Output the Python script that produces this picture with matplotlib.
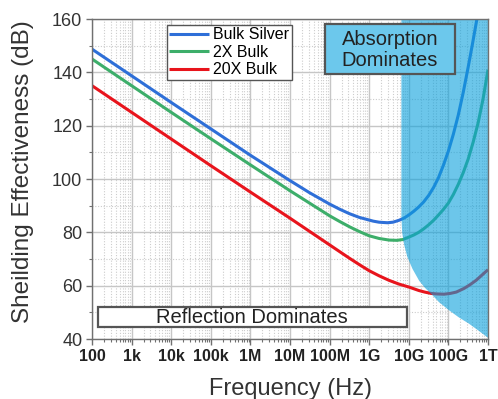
import numpy as np
import matplotlib
matplotlib.use('Agg')
import matplotlib.pyplot as plt
from matplotlib.patches import Rectangle
from matplotlib.ticker import LogLocator, MultipleLocator, NullFormatter, FixedLocator, FixedFormatter

plt.rcParams['font.family'] = ['Liberation Sans', 'DejaVu Sans']

# ---------------- data ----------------
series_names = ['Bulk Silver', '2X Bulk', '20X Bulk']

# log10 of frequency in Hz, and shielding effectiveness in dB
bulk_logf = [2, 3, 4, 5, 6, 7, 7.5, 8, 8.25, 8.5, 8.75, 9, 9.1, 9.25, 9.35, 9.46,
             9.6, 9.75, 9.875, 10, 10.125, 10.25, 10.375, 10.5, 10.625, 10.75,
             10.875, 11, 11.125, 11.25, 11.375, 11.5, 11.6, 11.72, 11.85]
bulk_se = [148.7, 138.7, 128.7, 118.8, 108.9, 99.4, 94.8, 90.6, 88.7, 87.0, 85.6,
           84.6, 84.2, 83.8, 83.7, 83.6, 83.8, 84.5, 85.3, 86.5, 87.9, 89.5, 91.4,
           93.8, 96.8, 100.5, 105.2, 110.5, 116.8, 124, 132.5, 142, 150, 160, 172]

x2_logf = [2, 3, 4, 5, 6, 7, 7.5, 8, 8.25, 8.5, 8.75, 9, 9.25, 9.5, 9.7, 9.85, 10,
           10.125, 10.25, 10.375, 10.5, 10.625, 10.75, 10.875, 11, 11.125, 11.25,
           11.375, 11.5, 11.625, 11.75, 11.875, 12]
x2_se = [145, 135, 125, 115.1, 105.3, 95.6, 90.9, 86.2, 84.1, 82.1, 80.3, 78.7,
         77.7, 77.1, 77.0, 77.3, 78.2, 79.0, 80.0, 81.3, 82.8, 84.5, 86.5, 88.6,
         91, 94.2, 98, 102.4, 107.5, 113.8, 121, 130, 141]

x20_logf = [2, 3, 4, 5, 6, 7, 7.5, 7.75, 8, 8.25, 8.5, 8.75, 9, 9.25, 9.5, 9.75,
            10, 10.25, 10.4, 10.56, 10.7, 10.89, 11.05, 11.2, 11.4, 11.55, 11.7,
            11.85, 12]
x20_se = [135, 125, 115, 105, 95.1, 85.3, 80.3, 77.8, 75.3, 72.8, 70.3, 67.9,
          65.6, 63.7, 62.0, 60.6, 59.5, 58.2, 57.6, 57.1, 56.9, 56.8, 57.1, 57.6,
          59.0, 60.4, 62.0, 64.0, 66.0]

# boundary of the "absorption dominates" region
shade_logf = [9.8, 9.8, 9.82, 9.87, 9.95, 10.08, 10.25, 10.4, 10.56, 10.75,
              11.0, 11.25, 11.5, 11.75, 12.0]
shade_se = [160, 86, 80, 75.5, 71, 66.5, 62, 59.3, 57, 54, 51, 48.3, 46, 43.3, 40.5]

xtick_logf = [2, 3, 4, 5, 6, 7, 8, 9, 10, 11, 12]
xtick_labels = ['100', '1k', '10k', '100k', '1M', '10M', '100M', '1G', '10G', '100G', '1T']

line_colors = ['#2E6FD8', '#3DAE6A', '#E8141C']

# ---------------- figure ----------------
W, H = 498, 399
fig = plt.figure(figsize=(W / 100, H / 100), dpi=100)
ax_l, ax_r, ax_t, ax_b = 92, 488, 19, 339
ax = fig.add_axes([ax_l / W, 1 - ax_b / H, (ax_r - ax_l) / W, (ax_b - ax_t) / H])

def fx(px):
    return px / W

def fy(py):
    return 1 - py / H

ax.set_xscale('log')
ax.set_xlim(1e2, 1e12)
ax.set_ylim(40, 160)

for lf, se, c, name in zip([bulk_logf, x2_logf, x20_logf],
                           [bulk_se, x2_se, x20_se], line_colors, series_names):
    ax.plot(10 ** np.array(lf, dtype=float), se, color=c, lw=2.2, label=name,
            zorder=2.5, solid_capstyle='butt', solid_joinstyle='round')

ax.fill_between(10 ** np.array(shade_logf, dtype=float), shade_se, 160,
                color='#0AA0DC', alpha=0.6, lw=0, zorder=3)

# ticks & grid
ax.xaxis.set_major_locator(FixedLocator(10 ** np.array(xtick_logf, dtype=float)))
ax.xaxis.set_major_formatter(FixedFormatter(xtick_labels))
ax.xaxis.set_minor_locator(LogLocator(base=10, subs=np.arange(2, 10), numticks=30))
ax.xaxis.set_minor_formatter(NullFormatter())
ax.yaxis.set_major_locator(MultipleLocator(20))
ax.yaxis.set_minor_locator(MultipleLocator(10))

ax.set_axisbelow(True)
ax.grid(which='major', color='#c6c6c6', lw=1.0, ls='-')
ax.grid(which='minor', color='#cccccc', lw=0.8, ls=(0, (1, 1.5)))

for s in ax.spines.values():
    s.set_color('#707070')
    s.set_linewidth(1.0)
    s.set_zorder(4)

ax.tick_params(axis='both', which='major', direction='out', length=4, width=1,
               color='#707070')
ax.tick_params(axis='both', which='minor', direction='out', length=2.5, width=0.8,
               color='#707070')
ax.tick_params(axis='y', labelsize=13, labelcolor='#333333', pad=3)
ax.tick_params(axis='x', labelsize=11.5, labelcolor='#222222', pad=3)
for lab in ax.get_xticklabels():
    lab.set_fontweight('bold')

ax.set_xlabel('Frequency (Hz)', fontsize=17, color='#333333')
ax.xaxis.set_label_coords(0.5, -0.121)
ax.set_ylabel('Sheilding Effectiveness (dB)', fontsize=17.5, color='#333333')
ax.yaxis.set_label_coords(-0.146, 0.523)

# legend
leg = ax.legend(loc='upper left', bbox_to_anchor=(fx(167), fy(25)),
                bbox_transform=fig.transFigure, fontsize=11.5, frameon=True,
                fancybox=False, edgecolor='#555555', framealpha=1,
                borderpad=0.15, borderaxespad=0, handlelength=2.45,
                handletextpad=0.3, labelspacing=0.15)
leg.get_frame().set_linewidth(1.0)
leg.set_zorder(6)

# annotation boxes
abs_box = Rectangle((fx(325), fy(74)), fx(455) - fx(325), fy(24) - fy(74),
                    transform=fig.transFigure, facecolor='#6CC8EC',
                    edgecolor='#555555', lw=1.6, zorder=5, clip_on=False)
ax.add_artist(abs_box)
ax.text(fx(390), fy(50), 'Absorption\nDominates', transform=fig.transFigure,
        ha='center', va='center', fontsize=14.5, linespacing=1.15,
        color='#222222', zorder=6)

ref_box = Rectangle((fx(98), fy(327)), fx(407) - fx(98), fy(307) - fy(327),
                    transform=fig.transFigure, facecolor='white',
                    edgecolor='#555555', lw=1.6, zorder=5, clip_on=False)
ax.add_artist(ref_box)
ax.text(fx(252), fy(317.5), 'Reflection Dominates', transform=fig.transFigure,
        ha='center', va='center', fontsize=14.5, color='#222222', zorder=6)

fig.savefig('out.png', dpi=100)
